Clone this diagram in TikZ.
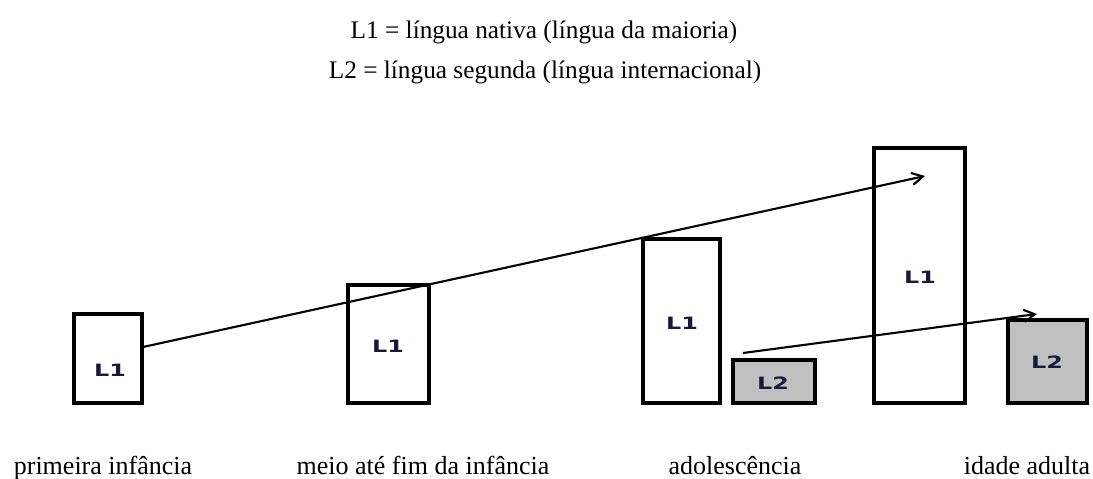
\documentclass[tikz,border=0pt]{standalone}
\usepackage{fontspec}
\setmainfont{Liberation Serif}
\newfontfamily\labfont{DejaVu Sans}
\usetikzlibrary{arrows.meta}
\definecolor{labcol}{RGB}{25,25,60}
\definecolor{barfill}{RGB}{192,192,192}
\tikzset{
  bar/.style={draw=black, line width=3.4pt, fill=white, inner sep=0pt, outer sep=0pt},
  grbar/.style={bar, fill=barfill},
  lab/.style={font=\labfont\bfseries\fontsize{17}{19}\selectfont, text=labcol, inner sep=0pt},
  title/.style={font=\fontsize{25.3}{30}\selectfont, anchor=base, inner sep=0pt},
  age/.style={font=\fontsize{26}{30}\selectfont, anchor=base, inner sep=0pt},
  arr/.style={line width=2.1pt, -{Straight Barb[length=11pt,width=12pt,line width=2.1pt]}}
}
\begin{document}
\begin{tikzpicture}[x=1pt,y=-1pt]
\useasboundingbox (0,0) rectangle (1093,479);
% titles
\node[title] (t1) at (544,38) {L1 = língua nativa (língua da maioria)};
\node[title] (t2) at (545,78) {L2 = língua segunda (língua internacional)};
% bars
\node[bar, minimum width=68pt, minimum height=89pt] (b1) at (108,358.5) {};
\node[bar, minimum width=81pt, minimum height=118pt] (b2) at (388.5,344) {};
\node[bar, minimum width=77pt, minimum height=164pt] (b3) at (681.5,321) {};
\node[grbar, minimum width=82pt, minimum height=43pt] (c3) at (774,381.5) {};
\node[bar, minimum width=91pt, minimum height=255pt] (b4) at (919.5,275.5) {};
\node[grbar, minimum width=79pt, minimum height=83pt] (c4) at (1047.5,361.5) {};
% labels
\node[lab] (l1) at (110,370) {\scalebox{1.4}[1]{L1}};
\node[lab] (l2) at (388,346) {\scalebox{1.4}[1]{L1}};
\node[lab] (l3) at (682,323) {\scalebox{1.4}[1]{L1}};
\node[lab] (l4) at (773,383) {\scalebox{1.4}[1]{L2}};
\node[lab] (l5) at (920,277) {\scalebox{1.4}[1]{L1}};
\node[lab] (l6) at (1047,362.5) {\scalebox{1.4}[1]{L2}};
% arrows
\coordinate (a1s) at (143,347);
\coordinate (a1e) at (925,176);
\coordinate (a2s) at (743,353);
\coordinate (a2e) at (1037,314);
\draw[arr] (a1s) -- (a1e);
\draw[arr] (a2s) -- (a2e);
% age labels
\node[age] (g1) at (103,474) {primeira infância};
\node[age] (g2) at (423,474) {meio até fim da infância};
\node[age] (g3) at (735,474) {adolescência};
\node[age] (g4) at (1027,474) {idade adulta};
\end{tikzpicture}
\end{document}
